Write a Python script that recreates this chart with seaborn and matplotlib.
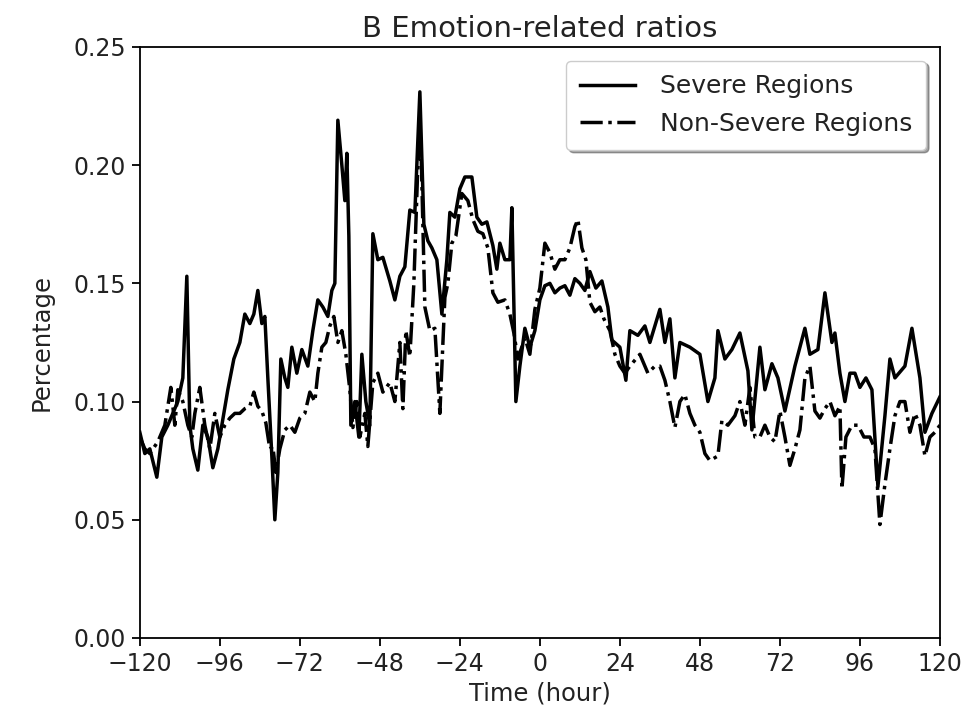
import matplotlib
matplotlib.use("Agg")
import matplotlib.pyplot as plt
import seaborn as sns
import pandas as pd
import numpy as np
from matplotlib.ticker import FormatStrFormatter

severe_hours = [-120, -118.5, -117, -114.9, -113.4, -111.6, -110.1, -108.6, -107.1, -105.9,
                -105, -104.1, -102.6, -101.1, -99.6, -98.1, -96.6, -95.4, -93.6, -91.8,
                -90, -88.5, -87, -85.8, -84.6, -83.4, -82.5, -81.6, -80.4, -79.5,
                -78.6, -77.7, -76.5, -75.6, -74.4, -72.9, -71.4, -69.6, -68.1, -66.6,
                -65.1, -63.6, -62.4, -61.5, -60.6, -59.4, -58.5, -57.9, -57.3, -56.7,
                -55.5, -54.3, -53.4, -52.2, -51, -50.1, -48.6, -47.1, -45, -43.5,
                -42, -40.5, -39, -37.5, -36, -34.8, -33.6, -32.4, -30.9, -29.4,
                -27.9, -27, -25.5, -24, -22.5, -20.4, -18.9, -17.4, -15.9, -14.1,
                -12.9, -12, -10.5, -9, -8.4, -7.2, -6, -4.5, -3, -1.5,
                0, 1.5, 3, 4.5, 6, 7.5, 9, 10.5, 12, 13.5,
                15, 16.8, 18.6, 20.4, 21.6, 24, 25.8, 27, 29.4, 31.5,
                33, 36, 37.5, 39, 40.5, 42, 45, 48, 50.4, 52.5,
                53.4, 55.5, 57.6, 60, 62.4, 63.6, 66, 67.5, 69.6, 71.4,
                73.5, 76.5, 79.5, 81, 83.4, 85.5, 87.6, 88.5, 90, 91.5,
                93, 94.5, 96, 97.8, 99.6, 101.4, 103.5, 105, 106.5, 109.5,
                111.6, 114, 115.5, 117.6, 120]
severe_values = [0.087, 0.078, 0.080, 0.068, 0.085, 0.090, 0.095, 0.100, 0.110, 0.153,
                 0.090, 0.080, 0.071, 0.090, 0.085, 0.072, 0.080, 0.090, 0.105, 0.118,
                 0.125, 0.137, 0.133, 0.137, 0.147, 0.133, 0.136, 0.110, 0.077, 0.050,
                 0.070, 0.118, 0.110, 0.106, 0.123, 0.112, 0.122, 0.115, 0.130, 0.143,
                 0.140, 0.136, 0.147, 0.150, 0.219, 0.200, 0.185, 0.205, 0.170, 0.090,
                 0.100, 0.085, 0.120, 0.100, 0.090, 0.171, 0.160, 0.161, 0.151, 0.143,
                 0.153, 0.157, 0.181, 0.180, 0.231, 0.175, 0.168, 0.165, 0.160, 0.137,
                 0.160, 0.180, 0.178, 0.190, 0.195, 0.195, 0.178, 0.175, 0.176, 0.166,
                 0.156, 0.167, 0.160, 0.160, 0.182, 0.100, 0.115, 0.131, 0.123, 0.130,
                 0.143, 0.149, 0.150, 0.146, 0.148, 0.149, 0.145, 0.152, 0.150, 0.147,
                 0.155, 0.148, 0.151, 0.140, 0.126, 0.123, 0.109, 0.130, 0.128, 0.132,
                 0.125, 0.139, 0.125, 0.135, 0.110, 0.125, 0.123, 0.120, 0.100, 0.110,
                 0.130, 0.118, 0.122, 0.129, 0.113, 0.088, 0.123, 0.105, 0.116, 0.110,
                 0.096, 0.115, 0.131, 0.120, 0.122, 0.146, 0.125, 0.129, 0.112, 0.100,
                 0.112, 0.112, 0.106, 0.110, 0.105, 0.064, 0.094, 0.118, 0.110, 0.115,
                 0.131, 0.110, 0.087, 0.095, 0.102]

nonsevere_hours = [-120, -118.5, -117, -114.6, -112.5, -110.7, -109.5, -108.6, -107.1, -105.6,
                   -104.4, -103.5, -102, -100.5, -99, -97.5, -96, -94.5, -93, -91.5,
                   -90, -88.5, -87, -85.8, -84.6, -83.4, -82.2, -81, -80.1, -79.2,
                   -78, -76.5, -75, -73.5, -72, -70.5, -69, -67.5, -66.6, -65.4,
                   -64.2, -63, -61.8, -60.6, -59.4, -58.2, -57, -56.1, -54.9, -54,
                   -52.5, -51.6, -50.1, -48.6, -47.1, -45, -43.5, -42, -41.1, -40.2,
                   -39, -37.8, -36.6, -35.7, -34.5, -33, -31.5, -30, -28.5, -27.6,
                   -26.4, -25.2, -23.4, -21.6, -20.1, -18.6, -17.1, -15.6, -14.1, -12.6,
                   -10.5, -9, -7.8, -6.6, -4.5, -3, -1.5, 0, 1.5, 3,
                   4.5, 6, 7.5, 9, 10.5, 11.4, 12.6, 13.8, 15, 16.5,
                   18, 19.2, 21, 22.5, 24, 25.5, 27, 30, 32.4, 34.5,
                   36, 37.5, 39, 40.5, 42, 43.5, 45, 46.5, 48, 49.5,
                   51, 53.4, 54.6, 56.4, 58.5, 60, 61.5, 63, 64.5, 66,
                   67.5, 69, 70.5, 72, 73.5, 75, 76.5, 78, 79.5, 81,
                   82.5, 84, 85.5, 87, 88.5, 90, 90.6, 91.8, 93.6, 95.4,
                   97.2, 99, 100.5, 102, 103.5, 105, 106.5, 108, 109.5, 111,
                   112.5, 114, 115.5, 117, 118.5, 120]
nonsevere_values = [0.085, 0.080, 0.078, 0.083, 0.090, 0.106, 0.090, 0.105, 0.100, 0.090,
                    0.085, 0.095, 0.106, 0.090, 0.080, 0.095, 0.085, 0.090, 0.093, 0.095,
                    0.095, 0.097, 0.098, 0.104, 0.098, 0.096, 0.091, 0.080, 0.081, 0.070,
                    0.080, 0.088, 0.090, 0.087, 0.093, 0.095, 0.104, 0.100, 0.112, 0.123,
                    0.125, 0.132, 0.136, 0.125, 0.130, 0.120, 0.105, 0.089, 0.100, 0.085,
                    0.095, 0.081, 0.108, 0.112, 0.104, 0.108, 0.100, 0.125, 0.097, 0.130,
                    0.119, 0.150, 0.200, 0.210, 0.140, 0.130, 0.131, 0.095, 0.144, 0.150,
                    0.167, 0.170, 0.188, 0.185, 0.177, 0.172, 0.171, 0.165, 0.146, 0.142,
                    0.143, 0.137, 0.129, 0.118, 0.127, 0.120, 0.139, 0.148, 0.167, 0.163,
                    0.156, 0.160, 0.160, 0.165, 0.174, 0.177, 0.165, 0.160, 0.142, 0.138,
                    0.140, 0.135, 0.130, 0.120, 0.115, 0.112, 0.115, 0.120, 0.112, 0.115,
                    0.115, 0.109, 0.100, 0.089, 0.100, 0.103, 0.095, 0.090, 0.087, 0.078,
                    0.075, 0.077, 0.092, 0.090, 0.094, 0.100, 0.090, 0.106, 0.085, 0.085,
                    0.090, 0.085, 0.083, 0.096, 0.085, 0.073, 0.080, 0.088, 0.110, 0.115,
                    0.096, 0.093, 0.097, 0.100, 0.094, 0.098, 0.063, 0.085, 0.090, 0.090,
                    0.085, 0.085, 0.080, 0.048, 0.065, 0.080, 0.094, 0.100, 0.100, 0.087,
                    0.095, 0.090, 0.077, 0.085, 0.087, 0.090]

x_ticks = [-120, -96, -72, -48, -24, 0, 24, 48, 72, 96, 120]
y_ticks = [0.00, 0.05, 0.10, 0.15, 0.20, 0.25]

df_s = pd.DataFrame({"hour": severe_hours, "value": severe_values})
df_n = pd.DataFrame({"hour": nonsevere_hours, "value": nonsevere_values})

fig = plt.figure(figsize=(9.71, 7.19), dpi=100)
ax = fig.add_axes([0.144, 0.1127, 0.824, 0.822])

sns.lineplot(data=df_n, x="hour", y="value", ax=ax, color="black", linewidth=2.5,
             linestyle="-.", label="Non-Severe Regions", estimator=None, sort=False)
sns.lineplot(data=df_s, x="hour", y="value", ax=ax, color="black", linewidth=2.5,
             linestyle="-", label="Severe Regions", estimator=None, sort=False)

txt = "#222222"
ax.set_xlim(-120, 120)
ax.set_ylim(0, 0.25)
ax.set_xticks(x_ticks)
ax.set_yticks(y_ticks)
ax.yaxis.set_major_formatter(FormatStrFormatter("%.2f"))
ax.set_xticklabels([str(t).replace("-", "\u2212") for t in x_ticks])
ax.tick_params(labelsize=17, length=6, width=1.3, labelcolor=txt, pad=4)
for s in ax.spines.values():
    s.set_linewidth(1.3)
ax.set_xlabel("Time (hour)", fontsize=17.5, color=txt, labelpad=4)
ax.set_ylabel("Percentage", fontsize=17.5, color=txt, labelpad=14)
ax.set_title("B Emotion-related ratios", fontsize=21, color=txt, pad=7)

handles, labels = ax.get_legend_handles_labels()
order = [labels.index("Severe Regions"), labels.index("Non-Severe Regions")]
leg = ax.legend([handles[i] for i in order], [labels[i] for i in order], loc="upper right",
                fontsize=18, shadow=True, framealpha=1, edgecolor="#cccccc",
                borderaxespad=0.55, borderpad=0.55, handlelength=2.2, handletextpad=1.0,
                labelspacing=0.55)
for t in leg.get_texts():
    t.set_color(txt)

fig.savefig("out.png", dpi=100)
